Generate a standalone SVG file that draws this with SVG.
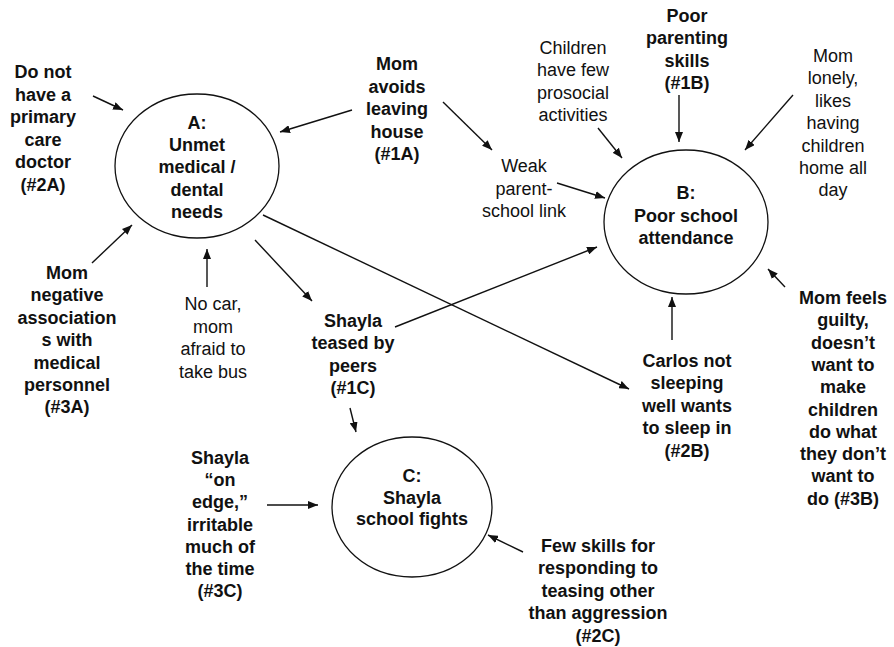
<svg xmlns="http://www.w3.org/2000/svg" width="894" height="647" viewBox="0 0 894 647">
<style>
text{font-family:"Liberation Sans",Arial,sans-serif;font-size:18px;fill:#111;text-anchor:middle}
.b{font-weight:bold}
.node ellipse{fill:none;stroke:#111;stroke-width:1.3}
#connectors line{stroke:#111;stroke-width:1.4;marker-end:url(#ah)}
</style>
<defs>
<marker id="ah" viewBox="0 0 10 8" refX="10" refY="4" markerWidth="10" markerHeight="8" markerUnits="userSpaceOnUse" orient="auto">
<path d="M0,0 L10,4 L0,8 Z" fill="#111"/>
</marker>
</defs>
<rect width="894" height="647" fill="#fff"/>
<g id="connectors">
<line x1="93" y1="96" x2="123" y2="110"/>
<line x1="352" y1="110" x2="280" y2="132"/>
<line x1="443" y1="102" x2="492" y2="150"/>
<line x1="557" y1="183" x2="605" y2="198"/>
<line x1="598" y1="128" x2="622" y2="158"/>
<line x1="679" y1="95" x2="679" y2="142"/>
<line x1="793" y1="95" x2="745" y2="150"/>
<line x1="785" y1="287" x2="768" y2="269"/>
<line x1="672" y1="340" x2="672" y2="297"/>
<line x1="263" y1="215" x2="629" y2="389"/>
<line x1="255" y1="240" x2="312" y2="301"/>
<line x1="395" y1="327" x2="597" y2="247"/>
<line x1="207" y1="287" x2="207" y2="249"/>
<line x1="92" y1="263" x2="132" y2="225"/>
<line x1="350" y1="408" x2="356" y2="432"/>
<line x1="267" y1="505" x2="318" y2="505"/>
<line x1="523" y1="552" x2="488" y2="535"/>
</g>
<g id="nodeA" class="node">
<ellipse cx="197" cy="166" rx="82" ry="72"/>
<text class="b" y="129"><tspan x="197">A:</tspan><tspan x="197" dy="22.2">Unmet</tspan><tspan x="197" dy="22.2">medical /</tspan><tspan x="197" dy="22.2">dental</tspan><tspan x="197" dy="22.2">needs</tspan></text>
</g>
<g id="nodeB" class="node">
<ellipse cx="686" cy="222" rx="82" ry="72"/>
<text class="b" y="199"><tspan x="686">B:</tspan><tspan x="686" dy="22.5">Poor school</tspan><tspan x="686" dy="22.5">attendance</tspan></text>
</g>
<g id="nodeC" class="node">
<ellipse cx="412" cy="507" rx="80" ry="70"/>
<text class="b" y="482"><tspan x="412">C:</tspan><tspan x="412" dy="21.5">Shayla</tspan><tspan x="412" dy="21.5">school fights</tspan></text>
</g>
<g id="n2A" class="node">
<text class="b" y="78"><tspan x="43">Do not</tspan><tspan x="43" dy="22.6">have a</tspan><tspan x="43" dy="22.6">primary</tspan><tspan x="43" dy="22.6">care</tspan><tspan x="43" dy="22.6">doctor</tspan><tspan x="43" dy="22.6">(#2A)</tspan></text>
</g>
<g id="n1A" class="node">
<text class="b" y="70"><tspan x="397">Mom</tspan><tspan x="397" dy="22.5">avoids</tspan><tspan x="397" dy="22.5">leaving</tspan><tspan x="397" dy="22.5">house</tspan><tspan x="397" dy="22.5">(#1A)</tspan></text>
</g>
<g id="nChildren" class="node">
<text y="54"><tspan x="573">Children</tspan><tspan x="573" dy="22.3">have few</tspan><tspan x="573" dy="22.3">prosocial</tspan><tspan x="573" dy="22.3">activities</tspan></text>
</g>
<g id="nWeak" class="node">
<text y="172"><tspan x="524">Weak</tspan><tspan x="524" dy="22.5">parent-</tspan><tspan x="524" dy="22.5">school link</tspan></text>
</g>
<g id="n1B" class="node">
<text class="b" y="22"><tspan x="687">Poor</tspan><tspan x="687" dy="22.4">parenting</tspan><tspan x="687" dy="22.4">skills</tspan><tspan x="687" dy="22.4">(#1B)</tspan></text>
</g>
<g id="nLonely" class="node">
<text y="62"><tspan x="833">Mom</tspan><tspan x="833" dy="22.4">lonely,</tspan><tspan x="833" dy="22.4">likes</tspan><tspan x="833" dy="22.4">having</tspan><tspan x="833" dy="22.4">children</tspan><tspan x="833" dy="22.4">home all</tspan><tspan x="833" dy="22.4">day</tspan></text>
</g>
<g id="n3B" class="node">
<text class="b" y="304"><tspan x="843">Mom feels</tspan><tspan x="843" dy="22.3">guilty,</tspan><tspan x="843" dy="22.3">doesn’t</tspan><tspan x="843" dy="22.3">want to</tspan><tspan x="843" dy="22.3">make</tspan><tspan x="843" dy="22.3">children</tspan><tspan x="843" dy="22.3">do what</tspan><tspan x="843" dy="22.3">they don’t</tspan><tspan x="843" dy="22.3">want to</tspan><tspan x="843" dy="22.3">do (#3B)</tspan></text>
</g>
<g id="n2B" class="node">
<text class="b" y="367"><tspan x="687">Carlos not</tspan><tspan x="687" dy="22.4">sleeping</tspan><tspan x="687" dy="22.4">well wants</tspan><tspan x="687" dy="22.4">to sleep in</tspan><tspan x="687" dy="22.4">(#2B)</tspan></text>
</g>
<g id="n3A" class="node">
<text class="b" y="279"><tspan x="67">Mom</tspan><tspan x="67" dy="22.4">negative</tspan><tspan x="67" dy="22.4">association</tspan><tspan x="67" dy="22.4">s with</tspan><tspan x="67" dy="22.4">medical</tspan><tspan x="67" dy="22.4">personnel</tspan><tspan x="67" dy="22.4">(#3A)</tspan></text>
</g>
<g id="nNoCar" class="node">
<text y="310"><tspan x="213">No car,</tspan><tspan x="213" dy="22.5">mom</tspan><tspan x="213" dy="22.5">afraid to</tspan><tspan x="213" dy="22.5">take bus</tspan></text>
</g>
<g id="n1C" class="node">
<text class="b" y="327"><tspan x="353">Shayla</tspan><tspan x="353" dy="22.4">teased by</tspan><tspan x="353" dy="22.4">peers</tspan><tspan x="353" dy="22.4">(#1C)</tspan></text>
</g>
<g id="n3C" class="node">
<text class="b" y="464"><tspan x="220">Shayla</tspan><tspan x="220" dy="22.2">“on</tspan><tspan x="220" dy="22.2">edge,”</tspan><tspan x="220" dy="22.2">irritable</tspan><tspan x="220" dy="22.2">much of</tspan><tspan x="220" dy="22.2">the time</tspan><tspan x="220" dy="22.2">(#3C)</tspan></text>
</g>
<g id="n2C" class="node">
<text class="b" y="552"><tspan x="598">Few skills for</tspan><tspan x="598" dy="22.4">responding to</tspan><tspan x="598" dy="22.4">teasing other</tspan><tspan x="598" dy="22.4">than aggression</tspan><tspan x="598" dy="22.4">(#2C)</tspan></text>
</g>
</svg>
